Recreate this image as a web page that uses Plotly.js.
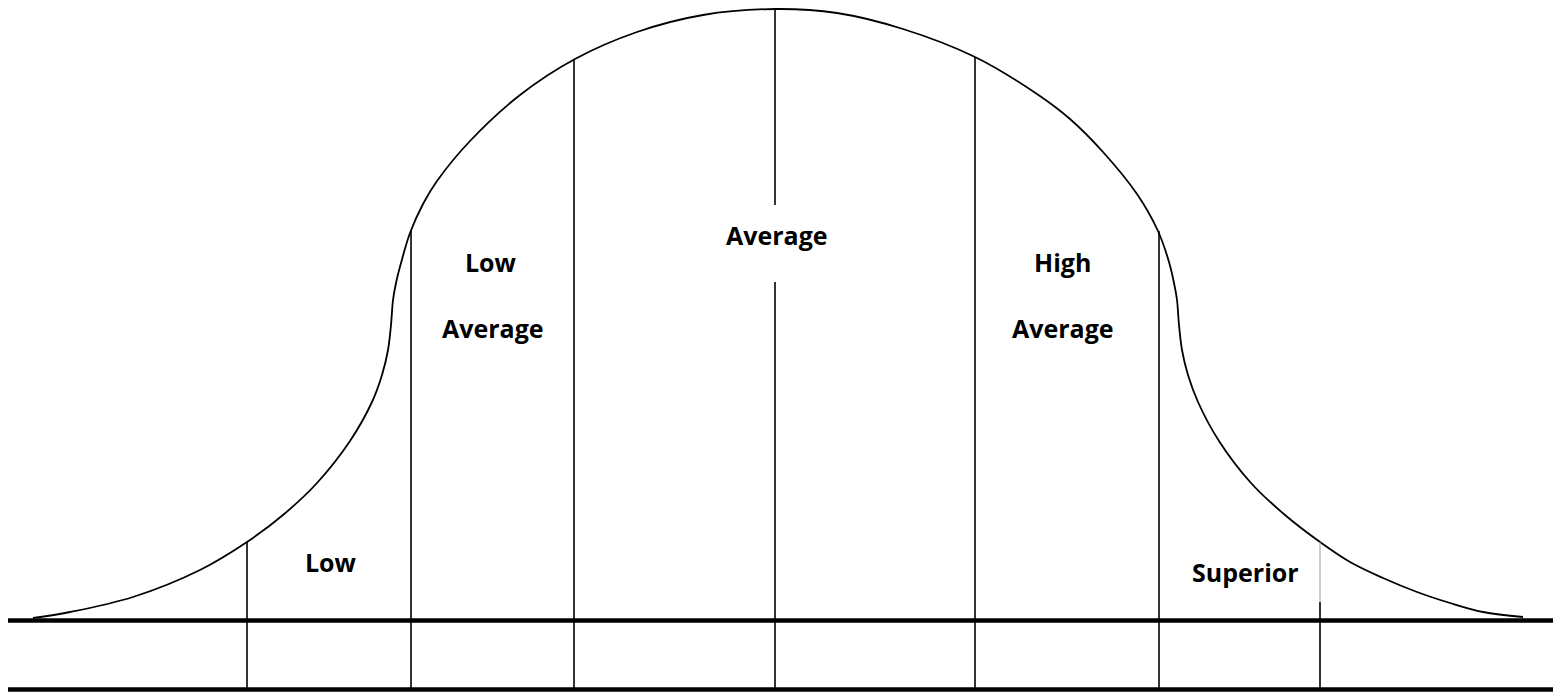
<!DOCTYPE html>
<html>
<head>
<meta charset="utf-8">
<script src="https://cdn.plot.ly/plotly-3.0.1.min.js"></script>
<style>html,body{margin:0;padding:0;background:#fff;}#chart{width:1553px;height:692px;}</style>
</head>
<body>
<div id="chart"></div>
<script>
// Bell curve outline (x, y measured in picture units, y downward)
const curveX = [33,70,133,200,247,283,317,350,372,382,388,391,393,396,401,410,423,437,470,520,575,637,703,775,837,903,975,1037,1070,1103,1137,1158,1169,1174,1177,1179,1182,1188,1198,1219,1251,1285,1320,1350,1383,1417,1450,1483,1523];
const curveY = [618,612,597,570,542,515,483,441,402,375,350,325,300,283,263,233,204,181,141,95,59,32,15,9,13,29,57,94,119,152,194,231,262,283,300,325,350,375,402,441,483,515,542,562,578,592,603,612,617];

// Category boundaries
const boundaryX   = [247, 411, 574, 775, 975, 1159, 1320];
const boundaryTop = [542, 231, 59, 9, 57, 231, 602];
const boundaryBottom = 689;
// gap in centre line for the "Average" label
const centreGap = [205, 282];
// faint upper part of the Superior boundary
const superiorFaint = [542, 602];

// Base lines
const baseLevels = [620.5, 689.5];
const baseStart = 8, baseEnd = 1553;

// Labels
const labelText = ["Low", "Low", "Average", "Average", "High", "Average", "Superior"];
const labelX    = [331, 491, 493, 777, 1062, 1063, 1245];
const labelY    = [562, 262, 328, 235, 262, 328, 572];

const traces = [];
traces.push({x: curveX, y: curveY, mode: 'lines', line: {color: '#000', width: 1.8, shape: 'spline', smoothing: 1}, hoverinfo: 'skip'});

boundaryX.forEach((bx, i) => {
  if (i === 3) {
    traces.push({x: [bx, bx], y: [boundaryTop[i], centreGap[0]], mode: 'lines', line: {color: '#000', width: 1.6}, hoverinfo: 'skip'});
    traces.push({x: [bx, bx], y: [centreGap[1], boundaryBottom], mode: 'lines', line: {color: '#000', width: 1.6}, hoverinfo: 'skip'});
  } else {
    traces.push({x: [bx, bx], y: [boundaryTop[i], boundaryBottom], mode: 'lines', line: {color: '#000', width: 1.6}, hoverinfo: 'skip'});
  }
});
traces.push({x: [boundaryX[6], boundaryX[6]], y: superiorFaint, mode: 'lines', line: {color: '#9a9a9a', width: 1}, hoverinfo: 'skip'});

baseLevels.forEach(lv => {
  traces.push({x: [baseStart, baseEnd], y: [lv, lv], mode: 'lines', line: {color: '#000', width: 4.5}, hoverinfo: 'skip'});
});

const annotations = labelText.map((t, i) => ({
  x: labelX[i], y: labelY[i], xref: 'x', yref: 'y', text: t, showarrow: false,
  xanchor: 'center', yanchor: 'middle',
  font: {family: 'Open Sans, sans-serif', size: 25, color: '#000', weight: 'bold'}
}));

const layout = {
  width: 1553, height: 692,
  margin: {l: 0, r: 0, t: 0, b: 0, pad: 0},
  paper_bgcolor: '#fff', plot_bgcolor: '#fff',
  showlegend: false,
  xaxis: {range: [0, 1553], visible: false, fixedrange: true},
  yaxis: {range: [692, 0], visible: false, fixedrange: true},
  annotations: annotations
};

Plotly.newPlot('chart', traces, layout, {staticPlot: true, displayModeBar: false});
</script>
</body>
</html>
